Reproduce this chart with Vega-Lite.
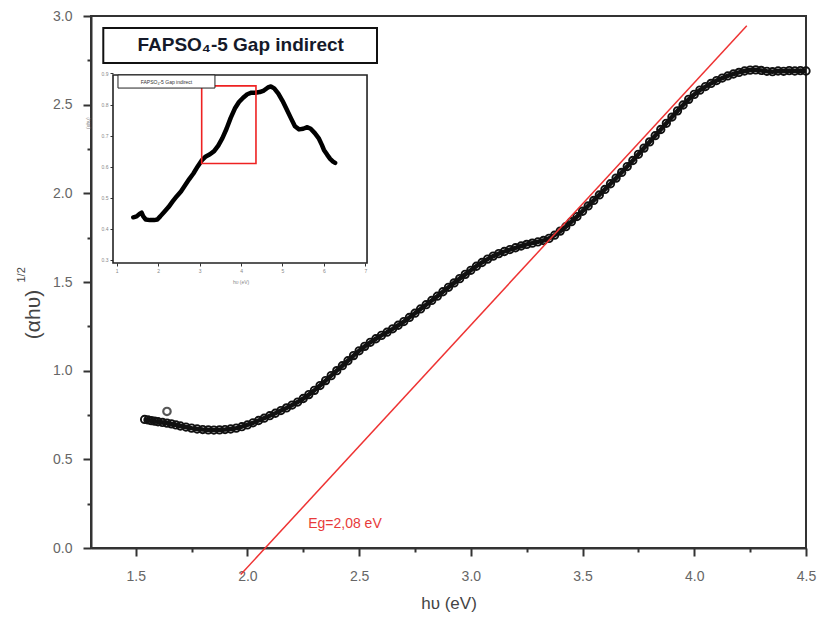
{
  "$schema": "https://vega.github.io/schema/vega-lite/v6.json",
  "width": 715,
  "height": 532,
  "autosize": "none",
  "padding": {"left": 91, "top": 16, "right": 15, "bottom": 85},
  "background": "white",
  "config": {"font": "Liberation Sans", "view": {"stroke": "#333", "strokeWidth": 2}},
  "datasets": {
    "curve": [
      {"x":1.540,"y":0.725},{"x":1.555,"y":0.722},{"x":1.570,"y":0.718},{"x":1.585,"y":0.715},{"x":1.600,"y":0.712},
      {"x":1.620,"y":0.708},{"x":1.640,"y":0.704},{"x":1.660,"y":0.700},{"x":1.680,"y":0.694},{"x":1.700,"y":0.688},
      {"x":1.725,"y":0.682},{"x":1.750,"y":0.676},{"x":1.775,"y":0.671},{"x":1.800,"y":0.668},{"x":1.825,"y":0.666},
      {"x":1.850,"y":0.665},{"x":1.875,"y":0.666},{"x":1.900,"y":0.668},{"x":1.925,"y":0.671},{"x":1.950,"y":0.676},
      {"x":1.975,"y":0.684},{"x":2.000,"y":0.694},{"x":2.025,"y":0.706},{"x":2.050,"y":0.719},{"x":2.075,"y":0.732},
      {"x":2.100,"y":0.746},{"x":2.125,"y":0.760},{"x":2.150,"y":0.775},{"x":2.175,"y":0.790},{"x":2.200,"y":0.806},
      {"x":2.225,"y":0.823},{"x":2.250,"y":0.843},{"x":2.275,"y":0.865},{"x":2.300,"y":0.889},{"x":2.325,"y":0.916},
      {"x":2.350,"y":0.944},{"x":2.375,"y":0.972},{"x":2.400,"y":1.000},{"x":2.425,"y":1.028},{"x":2.450,"y":1.056},
      {"x":2.475,"y":1.085},{"x":2.500,"y":1.112},{"x":2.525,"y":1.137},{"x":2.550,"y":1.160},{"x":2.575,"y":1.180},
      {"x":2.600,"y":1.199},{"x":2.625,"y":1.217},{"x":2.650,"y":1.236},{"x":2.675,"y":1.256},{"x":2.700,"y":1.277},
      {"x":2.725,"y":1.300},{"x":2.750,"y":1.324},{"x":2.775,"y":1.348},{"x":2.800,"y":1.372},{"x":2.825,"y":1.396},
      {"x":2.850,"y":1.420},{"x":2.875,"y":1.445},{"x":2.900,"y":1.470},{"x":2.925,"y":1.495},{"x":2.950,"y":1.519},
      {"x":2.975,"y":1.543},{"x":3.000,"y":1.566},{"x":3.025,"y":1.589},{"x":3.050,"y":1.610},{"x":3.075,"y":1.629},
      {"x":3.100,"y":1.646},{"x":3.125,"y":1.660},{"x":3.150,"y":1.672},{"x":3.175,"y":1.683},{"x":3.200,"y":1.693},
      {"x":3.225,"y":1.703},{"x":3.250,"y":1.712},{"x":3.275,"y":1.719},{"x":3.300,"y":1.726},{"x":3.325,"y":1.734},
      {"x":3.350,"y":1.746},{"x":3.375,"y":1.764},{"x":3.400,"y":1.787},{"x":3.425,"y":1.812},{"x":3.450,"y":1.840},
      {"x":3.475,"y":1.869},{"x":3.500,"y":1.899},{"x":3.525,"y":1.929},{"x":3.550,"y":1.960},{"x":3.575,"y":1.991},
      {"x":3.600,"y":2.022},{"x":3.625,"y":2.054},{"x":3.650,"y":2.086},{"x":3.675,"y":2.118},{"x":3.700,"y":2.151},
      {"x":3.725,"y":2.185},{"x":3.750,"y":2.220},{"x":3.775,"y":2.255},{"x":3.800,"y":2.290},{"x":3.825,"y":2.325},
      {"x":3.850,"y":2.360},{"x":3.875,"y":2.395},{"x":3.900,"y":2.430},{"x":3.925,"y":2.465},{"x":3.950,"y":2.498},
      {"x":3.975,"y":2.530},{"x":4.000,"y":2.558},{"x":4.025,"y":2.582},{"x":4.050,"y":2.602},{"x":4.075,"y":2.620},
      {"x":4.100,"y":2.636},{"x":4.125,"y":2.650},{"x":4.150,"y":2.662},{"x":4.175,"y":2.673},{"x":4.200,"y":2.682},
      {"x":4.225,"y":2.690},{"x":4.250,"y":2.695},{"x":4.275,"y":2.696},{"x":4.300,"y":2.693},{"x":4.325,"y":2.688},
      {"x":4.350,"y":2.686},{"x":4.375,"y":2.690},{"x":4.400,"y":2.688},{"x":4.425,"y":2.692},{"x":4.450,"y":2.690},
      {"x":4.475,"y":2.692},{"x":4.500,"y":2.690}
    ],
    "outlier": [{"x":1.640,"y":0.770}],
    "fit": [{"x":1.970,"y":-0.150},{"x":4.235,"y":2.945}],
    "eg": [{"x":2.272,"y":0.135,"label":"Eg=2,08 eV"}],
    "titlebox": [{"x":1.355,"x2":2.580,"y":2.735,"y2":2.933}],
    "titletext": [{"x":1.970,"y":2.835,"label":"FAPSO₄-5 Gap indirect"}],
    "sup": [{"x":0.990,"y":1.540,"label":"1/2"}],
    "inframe": [{"ix":0.91,"ix2":7.04,"iy":0.29,"iy2":0.895}],
    "incurve": [
      {"ix":1.40,"iy":0.437},{"ix":1.48,"iy":0.440},{"ix":1.55,"iy":0.448},{"ix":1.60,"iy":0.452},{"ix":1.64,"iy":0.440},
      {"ix":1.70,"iy":0.430},{"ix":1.80,"iy":0.428},{"ix":1.90,"iy":0.428},{"ix":1.98,"iy":0.430},{"ix":2.05,"iy":0.440},
      {"ix":2.15,"iy":0.455},{"ix":2.25,"iy":0.470},{"ix":2.35,"iy":0.488},{"ix":2.45,"iy":0.505},{"ix":2.55,"iy":0.520},
      {"ix":2.65,"iy":0.540},{"ix":2.75,"iy":0.560},{"ix":2.85,"iy":0.578},{"ix":2.95,"iy":0.600},{"ix":3.05,"iy":0.620},
      {"ix":3.15,"iy":0.633},{"ix":3.25,"iy":0.640},{"ix":3.35,"iy":0.650},{"ix":3.45,"iy":0.668},{"ix":3.55,"iy":0.692},
      {"ix":3.65,"iy":0.722},{"ix":3.75,"iy":0.757},{"ix":3.85,"iy":0.787},{"ix":3.95,"iy":0.808},{"ix":4.05,"iy":0.822},
      {"ix":4.15,"iy":0.833},{"ix":4.25,"iy":0.838},{"ix":4.35,"iy":0.838},{"ix":4.45,"iy":0.840},{"ix":4.55,"iy":0.845},
      {"ix":4.65,"iy":0.855},{"ix":4.72,"iy":0.858},{"ix":4.80,"iy":0.852},{"ix":4.90,"iy":0.835},{"ix":5.00,"iy":0.812},
      {"ix":5.10,"iy":0.785},{"ix":5.20,"iy":0.757},{"ix":5.30,"iy":0.730},{"ix":5.40,"iy":0.720},{"ix":5.50,"iy":0.722},
      {"ix":5.60,"iy":0.727},{"ix":5.68,"iy":0.722},{"ix":5.78,"iy":0.708},{"ix":5.88,"iy":0.690},{"ix":5.95,"iy":0.670},
      {"ix":6.00,"iy":0.654},{"ix":6.08,"iy":0.638},{"ix":6.15,"iy":0.625},{"ix":6.22,"iy":0.616},{"ix":6.27,"iy":0.612}
    ],
    "inredbox": [{"ix":3.05,"ix2":4.36,"iy":0.61,"iy2":0.86}],
    "inlegbox": [{"ix":1.03,"ix2":3.37,"iy":0.853,"iy2":0.895}],
    "inlegtext": [{"ix":2.20,"iy":0.874,"label":"FAPSO₄-5 Gap indirect"}],
    "intitles": [
      {"ix":4.00,"iy":0.228,"label":"hυ (eV)","angle":0},
      {"ix":0.30,"iy":0.740,"label":"(αhυ)","angle":270}
    ]
  },
  "layer": [
    {
      "layer": [
        {
          "data": {"name": "curve"},
          "mark": {"type": "line", "color": "#111", "strokeWidth": 4.5},
          "encoding": {
            "x": {"field": "x", "type": "quantitative",
              "scale": {"domain": [1.3, 4.5], "nice": false, "zero": false},
              "axis": {"orient": "bottom", "values": [1.5, 2, 2.5, 3, 3.5, 4, 4.5], "format": ".1f", "grid": false,
                "domainColor": "#333", "domainWidth": 2, "ticks": true, "tickColor": "#333", "tickWidth": 2, "tickSize": 8,
                "labelFontSize": 14, "labelColor": "#666", "labelPadding": 13, "labelFlush": false,
                "title": "hυ (eV)", "titleFontSize": 17, "titleFontWeight": "normal", "titleColor": "#444", "titlePadding": 12}},
            "y": {"field": "y", "type": "quantitative",
              "scale": {"domain": [0, 3], "nice": false, "zero": false},
              "axis": {"orient": "left", "values": [0, 0.5, 1, 1.5, 2, 2.5, 3], "format": ".1f", "grid": false,
                "domainColor": "#333", "domainWidth": 2, "ticks": true, "tickColor": "#333", "tickWidth": 2, "tickSize": 8,
                "labelFontSize": 14, "labelColor": "#666", "labelPadding": 11,
                "title": "(αhυ)", "titleFontSize": 21, "titleFontWeight": "normal", "titleColor": "#444", "titlePadding": 9, "titleY": 298}}
          }
        },
        {
          "data": {"name": "curve"},
          "mark": {"type": "point", "shape": "circle", "filled": false, "stroke": "#111", "strokeWidth": 1.9, "size": 55, "opacity": 1},
          "encoding": {"x": {"field": "x", "type": "quantitative"}, "y": {"field": "y", "type": "quantitative"}}
        },
        {
          "data": {"name": "outlier"},
          "mark": {"type": "point", "shape": "circle", "filled": false, "stroke": "#111", "strokeWidth": 2.2, "size": 55},
          "encoding": {"x": {"field": "x", "type": "quantitative"}, "y": {"field": "y", "type": "quantitative"}}
        },
        {
          "data": {"name": "fit"},
          "mark": {"type": "line", "color": "#ee3333", "strokeWidth": 1.5, "clip": false},
          "encoding": {"x": {"field": "x", "type": "quantitative"}, "y": {"field": "y", "type": "quantitative"}}
        },
        {
          "data": {"name": "eg"},
          "mark": {"type": "text", "align": "left", "baseline": "middle", "fontSize": 14, "color": "#e83a3a"},
          "encoding": {"x": {"field": "x", "type": "quantitative"}, "y": {"field": "y", "type": "quantitative"}, "text": {"field": "label"}}
        },
        {
          "data": {"name": "titlebox"},
          "mark": {"type": "rect", "fill": "white", "stroke": "#111", "strokeWidth": 2},
          "encoding": {"x": {"field": "x", "type": "quantitative"}, "x2": {"field": "x2"}, "y": {"field": "y", "type": "quantitative"}, "y2": {"field": "y2"}}
        },
        {
          "data": {"name": "titletext"},
          "mark": {"type": "text", "align": "center", "baseline": "middle", "fontSize": 19, "fontWeight": "bold", "color": "#151a2a"},
          "encoding": {"x": {"field": "x", "type": "quantitative"}, "y": {"field": "y", "type": "quantitative"}, "text": {"field": "label"}}
        },
        {
          "data": {"name": "sup"},
          "mark": {"type": "text", "align": "center", "baseline": "middle", "fontSize": 11, "angle": 270, "color": "#444", "clip": false},
          "encoding": {"x": {"field": "x", "type": "quantitative"}, "y": {"field": "y", "type": "quantitative"}, "text": {"field": "label"}}
        }
      ]
    },
    {
      "layer": [
        {
          "data": {"name": "curve"},
          "mark": {"type": "point", "opacity": 0},
          "encoding": {
            "x": {"field": "x", "type": "quantitative",
              "scale": {"domain": [1.3, 4.5], "nice": false, "zero": false},
              "axis": {"orient": "bottom", "values": [1.75, 2.25, 2.75, 3.25, 3.75, 4.25], "labels": false, "domain": false, "grid": false,
                "ticks": true, "tickColor": "#333", "tickWidth": 2, "tickSize": 4, "title": null}},
            "y": {"field": "y", "type": "quantitative",
              "scale": {"domain": [0, 3], "nice": false, "zero": false},
              "axis": {"orient": "left", "values": [0.25, 0.75, 1.25, 1.75, 2.25, 2.75], "labels": false, "domain": false, "grid": false,
                "ticks": true, "tickColor": "#333", "tickWidth": 2, "tickSize": 4, "title": null}}
          }
        }
      ]
    },
    {
      "layer": [
        {
          "data": {"name": "inframe"},
          "mark": {"type": "rect", "fill": "white", "stroke": "#222", "strokeWidth": 1.6},
          "encoding": {
            "x": {"field": "ix", "type": "quantitative",
              "scale": {"domain": [0.379, 17.633], "nice": false, "zero": false},
              "axis": {"orient": "bottom", "offset": -285, "values": [1, 2, 3, 4, 5, 6, 7], "domain": false, "grid": false,
                "ticks": true, "tickColor": "#333", "tickWidth": 1, "tickSize": 3, "labelFontSize": 5, "labelColor": "#888", "labelPadding": 2, "labelFlush": false,
                "title": null}},
            "x2": {"field": "ix2"},
            "y": {"field": "iy", "type": "quantitative",
              "scale": {"domain": [-0.6273, 1.0849], "nice": false, "zero": false},
              "axis": {"orient": "left", "offset": -22, "values": [0.3, 0.4, 0.5, 0.6, 0.7, 0.8, 0.9], "format": ".1f", "domain": false, "grid": false,
                "ticks": true, "tickColor": "#333", "tickWidth": 1, "tickSize": 3, "labelFontSize": 5, "labelColor": "#888", "labelPadding": 2,
                "title": null}},
            "y2": {"field": "iy2"}
          }
        },
        {
          "data": {"name": "incurve"},
          "mark": {"type": "line", "color": "#000", "strokeWidth": 4.5, "strokeCap": "round", "strokeJoin": "round"},
          "encoding": {"x": {"field": "ix", "type": "quantitative"}, "y": {"field": "iy", "type": "quantitative"}}
        },
        {
          "data": {"name": "inredbox"},
          "mark": {"type": "rect", "fill": null, "fillOpacity": 0, "stroke": "#ee2222", "strokeWidth": 1.6},
          "encoding": {"x": {"field": "ix", "type": "quantitative"}, "x2": {"field": "ix2"}, "y": {"field": "iy", "type": "quantitative"}, "y2": {"field": "iy2"}}
        },
        {
          "data": {"name": "inlegbox"},
          "mark": {"type": "rect", "fill": "white", "stroke": "#222", "strokeWidth": 1},
          "encoding": {"x": {"field": "ix", "type": "quantitative"}, "x2": {"field": "ix2"}, "y": {"field": "iy", "type": "quantitative"}, "y2": {"field": "iy2"}}
        },
        {
          "data": {"name": "inlegtext"},
          "mark": {"type": "text", "align": "center", "baseline": "middle", "fontSize": 5, "color": "#333"},
          "encoding": {"x": {"field": "ix", "type": "quantitative"}, "y": {"field": "iy", "type": "quantitative"}, "text": {"field": "label"}}
        },
        {
          "data": {"name": "intitles"},
          "mark": {"type": "text", "align": "center", "baseline": "middle", "fontSize": 5, "color": "#888", "clip": false},
          "encoding": {"x": {"field": "ix", "type": "quantitative"}, "y": {"field": "iy", "type": "quantitative"}, "text": {"field": "label"}, "angle": {"field": "angle", "type": "quantitative", "scale": null}}
        }
      ]
    }
  ],
  "resolve": {"scale": {"x": "independent", "y": "independent"}, "axis": {"x": "independent", "y": "independent"}}
}
